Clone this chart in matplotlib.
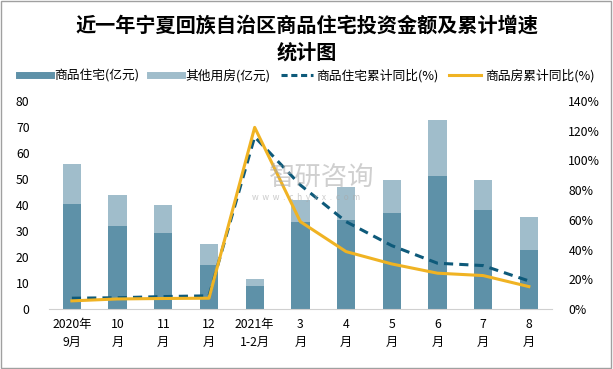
import numpy as np
import matplotlib
matplotlib.use('Agg')
import matplotlib.pyplot as plt
from matplotlib.patches import Rectangle
from matplotlib.lines import Line2D

plt.rcParams['font.family'] = ['Noto Sans CJK SC', 'DejaVu Sans']

months = ['2020年\n9月', '10\n月', '11\n月', '12\n月', '2021年\n1-2月', '3\n月',
          '4\n月', '5\n月', '6\n月', '7\n月', '8\n月']
residential = [40.4, 32.1, 29.3, 17.0, 8.9, 33.5, 34.3, 36.9, 51.1, 38.1, 22.7]
other = [15.3, 11.7, 10.7, 8.0, 2.7, 8.4, 12.6, 12.7, 21.5, 11.5, 12.7]
res_growth = [7.4, 7.7, 8.5, 9.0, 115.8, 83.4, 58.8, 42.7, 30.9, 29.3, 19.0]
house_growth = [5.6, 6.9, 7.2, 7.4, 122.1, 58.8, 38.7, 30.4, 24.2, 22.6, 15.2]

c_res = '#5E91A8'
c_oth = '#A0BDCB'
c_dash = '#0E5A7A'
c_gold = '#F0B323'

fig = plt.figure(figsize=(6.13, 3.69), dpi=100)
ax = fig.add_axes([0.080, 0.162, 0.820, 0.565])
x = np.arange(len(months))

ax.bar(x, residential, width=0.4, color=c_res, zorder=2)
ax.bar(x, other, width=0.4, bottom=residential, color=c_oth, zorder=2)
ax.set_ylim(0, 80)
ax.set_yticks(range(0, 81, 10))
ax.set_xlim(-0.5, len(months) - 0.5)
ax.set_xticks(x)
ax.set_xticklabels(months, fontsize=8.8, linespacing=1.5)
ax.tick_params(axis='y', labelsize=8.8, length=0, pad=14)
ax.tick_params(axis='x', length=0, pad=6)
for s in ['top', 'right', 'left']:
    ax.spines[s].set_visible(False)
ax.spines['bottom'].set_color('#D0D0D0')

ax2 = ax.twinx()
ax2.plot(x, res_growth, color=c_dash, lw=2.2, ls=(0, (3, 2)), zorder=3)
ax2.plot(x, house_growth, color=c_gold, lw=2.2, zorder=4)
ax2.set_ylim(0, 140)
ax2.set_yticks(range(0, 141, 20))
ax2.set_yticklabels([f'{v}%' for v in range(0, 141, 20)])
ax2.tick_params(axis='y', labelsize=8.8, length=0, pad=12)
for s in ['top', 'right', 'left', 'bottom']:
    ax2.spines[s].set_visible(False)

# watermark
fig.text(0.525, 0.518, '智研咨询', fontsize=19, color='#A8A8A8', alpha=0.55,
         ha='center', va='center', zorder=0)
fig.text(0.500, 0.466, 'w  w  w  .  c  h  y  x  x  .  c  o  m', fontsize=6,
         color='#A8A8A8', alpha=0.6, ha='center', va='center')

fig.text(0.5, 0.932, '近一年宁夏回族自治区商品住宅投资金额及累计增速', fontsize=14.5,
         fontweight='bold', ha='center', va='center')
fig.text(0.5, 0.859, '统计图', fontsize=14.5, fontweight='bold', ha='center', va='center')

handles = [Line2D([], [], color=c_res, lw=5),
           Line2D([], [], color=c_oth, lw=5),
           Line2D([], [], color=c_dash, lw=2.2, ls=(0, (2, 1.2))),
           Line2D([], [], color=c_gold, lw=2.2)]
labels = ['商品住宅(亿元)', '其他用房(亿元)', '商品住宅累计同比(%)', '商品房累计同比(%)']
fig.legend(handles, labels, loc='center', bbox_to_anchor=(0.5, 0.794), ncol=4,
           frameon=False, fontsize=9.2, handlelength=2.5, columnspacing=0.8,
           handletextpad=0.3, borderpad=0, borderaxespad=0)

fig.add_artist(Rectangle((0.002, 0.003), 0.995, 0.993, transform=fig.transFigure,
                         fill=False, edgecolor='#A0A0A0', lw=1))

fig.savefig('out.png', dpi=100)
